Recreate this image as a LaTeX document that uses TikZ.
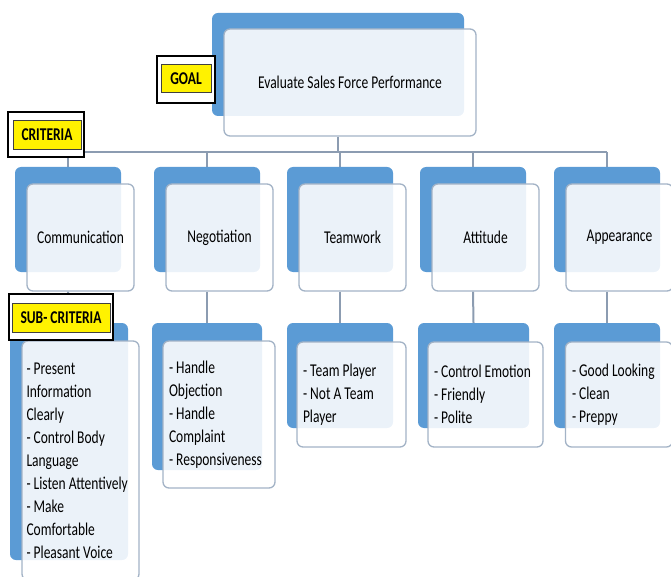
\documentclass[tikz,border=0pt]{standalone}
\usepackage{fontspec}
\setmainfont{Carlito}[FakeStretch=0.75, WordSpace={1,0,0}]
\usepackage{xcolor}
\usetikzlibrary{positioning,backgrounds}
\definecolor{cardblue}{HTML}{5B9BD5}
\definecolor{cardedge}{HTML}{A3B3C6}
\definecolor{linkgray}{HTML}{8C9CB1}
\newcommand{\cardfont}{\fontsize{18}{23}\selectfont}
\tikzset{
    backcard/.style={
        rectangle,
        fill=cardblue,
        rounded corners=6pt,
        inner sep=0pt,
        minimum width=106pt,
        minimum height=105pt
    },
    card/.style={
        rectangle,
        draw=cardedge,
        line width=1.3pt,
        fill=white,
        fill opacity=0.88,
        text opacity=1,
        rounded corners=6pt,
        align=center,
        inner sep=0pt,
        minimum width=107pt,
        minimum height=107pt,
        font=\cardfont
    },
    subcard/.style={card, align=flush left, inner xsep=6pt},
    tagframe/.style={rectangle, draw=black, line width=1.3pt, fill=white},
    tag/.style={
        rectangle,
        draw=black!75,
        line width=0.6pt,
        fill=yellow,
        inner sep=0pt,
        font=\cardfont\bfseries
    },
    link/.style={draw=linkgray, line width=2pt}
}

\begin{document}
\begin{tikzpicture}[x=1pt, y=-1pt]
    \useasboundingbox (0,0) rectangle (671,577);
    \coordinate (bus) at (0,152);

    % goal
    \node[backcard, minimum width=252pt, minimum height=103pt] (goalback) at (338,64.5) {};
    \node[card, minimum width=252pt] (goal) at ([shift={(12,18)}]goalback) {Evaluate Sales Force Performance};

    % criteria
    \node[backcard] (commback) at (68,219.5) {};
    \node[card] (comm) at ([shift={(12.5,18)}]commback) {Communication};
    \node[backcard] (negback) at (207,219.5) {};
    \node[card] (neg) at ([shift={(12.5,18)}]negback) {Negotiation};
    \node[backcard] (teamback) at (340,219.5) {};
    \node[card] (team) at ([shift={(12.5,18)}]teamback) {Teamwork};
    \node[backcard] (attback) at (473,219.5) {};
    \node[card] (att) at ([shift={(12.5,18)}]attback) {Attitude};
    \node[backcard] (appback) at (607,219.5) {};
    \node[card] (app) at ([shift={(12.5,18)}]appback) {Appearance};

    % sub-criteria
    \node[backcard, minimum width=118pt, minimum height=237pt] (commsubback) at (69,441.5) {};
    \node[subcard, inner xsep=4.5pt, text width=108pt, minimum height=239pt] (commsub) at ([shift={(11.5,19)}]commsubback)
        {- Present\\Information\\Clearly\\- Control Body\\Language\\- Listen Attentively\\- Make\\Comfortable\\- Pleasant Voice};
    \node[backcard, minimum width=110pt, minimum height=147pt] (negsubback) at (207,396.5) {};
    \node[subcard, text width=100pt, minimum height=147pt] (negsub) at ([shift={(12,18)}]negsubback)
        {- Handle\\Objection\\- Handle\\Complaint\\- Responsiveness};
    \node[backcard] (teamsubback) at (340,375.5) {};
    \node[subcard, text width=97pt, minimum height=105pt] (teamsub) at ([shift={(11.5,19)}]teamsubback)
        {- Team Player\\- Not A Team\\Player};
    \node[backcard, minimum width=111pt] (attsubback) at (473.5,375.5) {};
    \node[subcard, text width=103pt, minimum height=105pt] (attsub) at ([shift={(12,19)}]attsubback)
        {- Control Emotion\\- Friendly\\- Polite};
    \node[backcard] (appsubback) at (607,375.5) {};
    \node[subcard, text width=94pt, minimum height=105pt] (appsub) at ([shift={(12,19)}]appsubback)
        {- Good Looking\\- Clean\\- Preppy};

    % level tags
    \node[tagframe, minimum width=58pt, minimum height=47pt] (goalframe) at (186,79.5) {};
    \node[tag, minimum width=50pt, minimum height=28pt] (goaltag) at (186,78.5) {GOAL};
    \node[tagframe, minimum width=76pt, minimum height=45pt] (critframe) at (46,134.5) {};
    \node[tag, minimum width=68pt, minimum height=29pt] (crittag) at (47,134.5) {CRITERIA};
    \node[tagframe, minimum width=104pt, minimum height=46pt] (subframe) at (61,317) {};
    \node[tag, minimum width=98pt, minimum height=29pt] (subtag) at (61,317.5) {SUB- CRITERIA};

    \begin{scope}[on background layer]
        \draw[link] (goalback.south |- goal.south) -- (goalback.south |- bus);
        \draw[link] (commback.north |- bus) -- (appback.north |- bus);
        \draw[link] (commback.north |- bus) -- (commback.north);
        \draw[link] (negback.north |- bus) -- (negback.north);
        \draw[link] (teamback.north |- bus) -- (teamback.north);
        \draw[link] (attback.north |- bus) -- (attback.north);
        \draw[link] (appback.north |- bus) -- (appback.north);
        \draw[link] (commback.south |- comm.south) -- (commsubback.north);
        \draw[link] (negback.south |- neg.south) -- (negsubback.north);
        \draw[link] (teamback.south |- team.south) -- (teamsubback.north);
        \draw[link] (attback.south |- att.south) -- (attsubback.north);
        \draw[link] (appback.south |- app.south) -- (appsubback.north);
    \end{scope}
\end{tikzpicture}
\end{document}
